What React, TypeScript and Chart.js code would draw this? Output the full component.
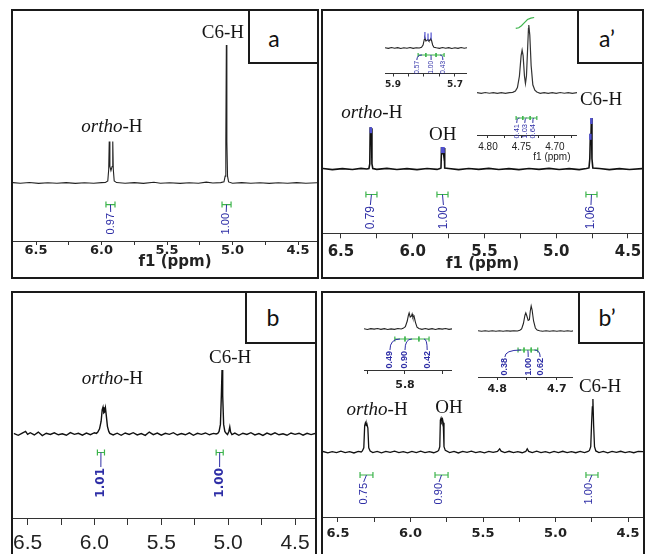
import React, { useEffect, useRef } from "react";
import { Chart, registerables } from "chart.js";
Chart.register(...registerables);

type Pt = [number, number];
type Integral = [number, number, number, string];
type Note = [number, number, string];

// ---------------- DATA ----------------
// spectra: [ppm, relative intensity]
const SPEC_A: Pt[] = [
  [6.676, 0.003], [6.62, -0.002], [6.55, 0.004], [6.48, -0.003], [6.41, 0.002], [6.34, -0.002], [6.27, 0.003], [6.2, -0.003],
  [6.13, 0.002], [6.06, -0.002], [6.0, 0.003], [5.97, 0.004],
  [5.952, 0.015], [5.945, 0.1], [5.941, 0.3], [5.936, 0.12], [5.928, 0.09], [5.919, 0.12], [5.914, 0.3], [5.91, 0.1], [5.903, 0.015],
  [5.885, 0.003], [5.82, -0.002], [5.75, 0.003], [5.68, -0.003], [5.6, 0.005], [5.55, -0.002], [5.48, 0.002], [5.4, -0.003],
  [5.33, 0.002], [5.26, -0.002], [5.2, 0.006], [5.15, 0.0], [5.09, 0.003],
  [5.065, 0.008], [5.056, 0.05], [5.051, 0.3], [5.047, 1.0], [5.043, 0.3], [5.038, 0.05], [5.03, 0.008],
  [5.0, -0.002], [4.93, 0.003], [4.86, -0.002], [4.79, 0.002], [4.72, -0.003], [4.65, 0.002], [4.58, -0.002], [4.51, 0.003],
  [4.44, -0.002], [4.355, 0.002],
];

const SPEC_AP: Pt[] = [
  [6.625, 0.01], [6.56, -0.012], [6.49, 0.008], [6.42, -0.01], [6.36, 0.012], [6.32, 0.0],
  [6.305, 0.01], [6.299, 0.1], [6.296, 0.82], [6.292, 0.6], [6.288, 0.8], [6.284, 0.1], [6.278, 0.01],
  [6.25, -0.008], [6.18, 0.012], [6.11, -0.01], [6.04, 0.008], [5.97, -0.012], [5.9, 0.01], [5.83, -0.008], [5.81, 0.008],
  [5.803, 0.02], [5.799, 0.43], [5.795, 0.3], [5.79, 0.42], [5.785, 0.3], [5.781, 0.41], [5.777, 0.02],
  [5.75, 0.01], [5.68, -0.012], [5.61, 0.01], [5.54, -0.008], [5.47, 0.012], [5.4, -0.01], [5.33, 0.008], [5.26, -0.012],
  [5.19, 0.01], [5.12, -0.008], [5.05, 0.012], [4.98, -0.01], [4.91, 0.008], [4.84, -0.012], [4.79, 0.008],
  [4.772, 0.02], [4.766, 0.2], [4.762, 0.69], [4.759, 0.5], [4.755, 1.0], [4.751, 0.2], [4.745, 0.02],
  [4.7, 0.01], [4.63, -0.012], [4.56, 0.008], [4.49, -0.01], [4.4024, 0.008],
];

const SPEC_AP_OH: Pt[] = [
  [5.926, 0.03], [5.915, -0.04], [5.905, 0.05], [5.895, -0.02], [5.885, 0.04], [5.875, -0.05], [5.865, 0.03], [5.855, -0.03],
  [5.845, 0.05], [5.835, -0.04], [5.825, 0.03], [5.815, 0.0],
  [5.808, 0.08], [5.803, 0.3], [5.799, 0.85], [5.797, 1.0], [5.794, 0.7], [5.791, 0.75], [5.787, 0.85], [5.784, 0.7],
  [5.781, 0.75], [5.778, 0.95], [5.776, 0.8], [5.772, 0.3], [5.768, 0.08],
  [5.76, 0.02], [5.75, -0.04], [5.74, 0.05], [5.73, -0.03], [5.72, 0.04], [5.71, -0.05], [5.7, 0.03], [5.69, -0.04],
  [5.68, 0.05], [5.67, -0.02], [5.661, 0.03],
];

const SPEC_AP_C6: Pt[] = [
  [4.8164, 0.005], [4.81, -0.006], [4.804, 0.007], [4.798, -0.004], [4.792, 0.006], [4.786, -0.007], [4.78, 0.005],
  [4.774, -0.005], [4.768, 0.006], [4.763, 0.01],
  [4.759, 0.03], [4.756, 0.08], [4.753, 0.25], [4.7505, 0.55], [4.749, 0.63], [4.7475, 0.55], [4.7455, 0.25], [4.744, 0.14],
  [4.7425, 0.25], [4.741, 0.6], [4.7395, 0.95], [4.739, 1.0], [4.7375, 0.85], [4.7355, 0.4], [4.733, 0.12], [4.73, 0.04], [4.727, 0.015],
  [4.722, -0.005], [4.716, 0.006], [4.71, -0.007], [4.704, 0.005], [4.698, -0.006], [4.692, 0.007], [4.686, -0.004],
  [4.68, 0.006], [4.674, -0.005], [4.667, 0.004],
];

const SPEC_B: Pt[] = [
  [6.6045, 0.01], [6.57, -0.02], [6.54, 0.015], [6.515, 0.04], [6.5, -0.005], [6.48, 0.02], [6.45, -0.015], [6.42, 0.03],
  [6.39, -0.025], [6.36, 0.012], [6.33, -0.008], [6.3, 0.018], [6.27, -0.012], [6.24, 0.004], [6.21, -0.02], [6.18, 0.022],
  [6.15, -0.006], [6.12, 0.01], [6.09, -0.018], [6.06, 0.014], [6.03, -0.01], [6.0, 0.02], [5.985, 0.01],
  [5.975, 0.03], [5.962, 0.08], [5.95, 0.2], [5.942, 0.38], [5.936, 0.42], [5.93, 0.33], [5.925, 0.34], [5.918, 0.41],
  [5.912, 0.3], [5.903, 0.12], [5.893, 0.04], [5.885, 0.01],
  [5.86, -0.015], [5.83, 0.012], [5.8, -0.02], [5.77, 0.016], [5.74, -0.008], [5.71, 0.02], [5.68, -0.014], [5.65, 0.006],
  [5.62, -0.022], [5.59, 0.03], [5.56, -0.01], [5.53, 0.015], [5.5, -0.018], [5.47, 0.01], [5.44, -0.006], [5.41, 0.02],
  [5.38, -0.016], [5.35, 0.008], [5.32, -0.012], [5.29, 0.018], [5.26, -0.02], [5.23, 0.01], [5.2, -0.006], [5.17, 0.016],
  [5.14, -0.012], [5.11, 0.01], [5.09, 0.0],
  [5.078, 0.01], [5.068, 0.04], [5.058, 0.15], [5.051, 0.6], [5.046, 1.0], [5.041, 0.6], [5.034, 0.15], [5.025, 0.04], [5.015, 0.01],
  [5.005, -0.01], [4.995, 0.04], [4.988, 0.11], [4.982, 0.03], [4.972, -0.01],
  [4.95, 0.015], [4.92, -0.02], [4.89, 0.012], [4.86, -0.008], [4.83, 0.02], [4.8, -0.015], [4.77, 0.006], [4.74, -0.022],
  [4.71, 0.014], [4.68, -0.01], [4.65, 0.018], [4.62, -0.012], [4.59, 0.004], [4.56, -0.02], [4.53, 0.016], [4.5, -0.006],
  [4.47, 0.012], [4.44, -0.018], [4.41, 0.01], [4.38, -0.01], [4.3507, 0.008],
];

const SPEC_BP: Pt[] = [
  [6.6034, 0.01], [6.57, -0.015], [6.54, 0.008], [6.51, -0.01], [6.48, 0.015], [6.45, -0.012], [6.42, 0.006], [6.39, -0.018],
  [6.36, 0.012], [6.34, 0.0],
  [6.332, 0.02], [6.322, 0.08], [6.316, 0.5], [6.311, 0.55], [6.305, 0.5], [6.3, 0.52], [6.294, 0.45], [6.288, 0.08], [6.278, 0.02],
  [6.26, -0.01], [6.23, 0.012], [6.2, -0.016], [6.17, 0.01], [6.14, -0.008], [6.11, 0.015], [6.08, -0.012], [6.05, 0.006],
  [6.02, -0.016], [5.99, 0.012], [5.96, -0.01], [5.93, 0.015], [5.9, -0.012], [5.87, 0.008], [5.84, -0.014], [5.815, 0.01],
  [5.806, 0.03], [5.798, 0.1], [5.794, 0.6], [5.789, 0.64], [5.784, 0.58], [5.779, 0.62], [5.774, 0.55], [5.769, 0.1], [5.76, 0.03],
  [5.73, -0.012], [5.7, 0.01], [5.67, -0.018], [5.64, 0.012], [5.61, -0.006], [5.58, 0.016], [5.55, -0.012], [5.52, 0.008],
  [5.49, -0.016], [5.46, 0.01], [5.43, -0.008], [5.4, 0.012], [5.385, 0.06], [5.375, 0.015], [5.35, -0.01], [5.32, 0.014],
  [5.29, -0.012], [5.26, 0.008], [5.23, -0.014], [5.205, 0.01], [5.195, 0.06], [5.185, 0.012], [5.16, -0.01], [5.13, 0.015],
  [5.1, -0.012], [5.07, 0.006], [5.04, -0.016], [5.01, 0.012], [4.98, -0.01], [4.95, 0.014], [4.92, -0.012], [4.89, 0.008],
  [4.86, -0.014], [4.83, 0.01], [4.8, -0.01], [4.775, 0.01],
  [4.766, 0.03], [4.757, 0.1], [4.751, 0.55], [4.746, 0.85], [4.742, 1.0], [4.737, 0.5], [4.731, 0.1], [4.722, 0.02],
  [4.7, -0.012], [4.67, 0.01], [4.64, -0.016], [4.61, 0.012], [4.58, -0.008], [4.55, 0.014], [4.52, -0.012], [4.49, 0.008],
  [4.46, -0.014], [4.43, 0.01], [4.3966, 0.008],
];

const SPEC_BP_OH: Pt[] = [
  [5.909, 0.02], [5.9, -0.03], [5.891, 0.02], [5.882, -0.01], [5.873, 0.03], [5.864, -0.02], [5.855, 0.02], [5.846, -0.03],
  [5.837, 0.01], [5.828, -0.02], [5.819, 0.03], [5.81, 0.0],
  [5.805, 0.04], [5.799, 0.15], [5.794, 0.5], [5.791, 0.85], [5.789, 1.0], [5.786, 0.75], [5.783, 0.8], [5.781, 0.94],
  [5.779, 0.72], [5.777, 0.78], [5.776, 0.81], [5.772, 0.4], [5.768, 0.12], [5.763, 0.03],
  [5.755, -0.02], [5.746, 0.03], [5.737, -0.02], [5.728, 0.02], [5.719, -0.03], [5.71, 0.02], [5.701, -0.01], [5.692, 0.03],
  [5.683, -0.02], [5.675, 0.01],
];

const SPEC_BP_C6: Pt[] = [
  [4.832, 0.01], [4.826, -0.012], [4.82, 0.008], [4.814, -0.01], [4.808, 0.012], [4.802, -0.008], [4.796, 0.01], [4.79, -0.012],
  [4.784, 0.008], [4.778, -0.006], [4.772, 0.01], [4.766, 0.0],
  [4.762, 0.03], [4.759, 0.08], [4.756, 0.3], [4.7535, 0.62], [4.752, 0.72], [4.7505, 0.62], [4.748, 0.42], [4.746, 0.45],
  [4.7445, 0.8], [4.743, 1.0], [4.7415, 0.85], [4.739, 0.4], [4.736, 0.12], [4.733, 0.04], [4.729, 0.01],
  [4.724, -0.01], [4.718, 0.012], [4.712, -0.008], [4.706, 0.01], [4.7, -0.012], [4.694, 0.008], [4.688, -0.01],
  [4.682, 0.012], [4.676, -0.008], [4.673, 0.005],
];

// integrals: [from ppm, to ppm, label ppm, value]
const INT_A: Integral[] = [[5.966, 5.897, 5.93, "0.97"], [5.08, 5.011, 5.048, "1.00"]];
const INT_AP: Integral[] = [[6.326, 6.249, 6.295, "0.79"], [5.831, 5.754, 5.786, "1.00"], [4.793, 4.716, 4.758, "1.06"]];
const INT_AP_OH: Integral[] = [[5.819, 5.794, 5.823, "0.57"], [5.794, 5.761, 5.777, "1.00"], [5.761, 5.735, 5.739, "0.43"]];
const INT_AP_C6: Integral[] = [[4.758, 4.748, 4.757, "0.41"], [4.748, 4.737, 4.745, "1.03"], [4.737, 4.727, 4.733, "0.64"]];
const INT_B: Integral[] = [[5.978, 5.925, 5.952, "1.01"], [5.09, 5.037, 5.064, "1.00"]];
const INT_BP: Integral[] = [[6.348, 6.259, 6.323, "0.75"], [5.831, 5.741, 5.803, "0.90"], [4.79, 4.707, 4.769, "1.00"]];
const INT_BP_OH: Integral[] = [[5.827, 5.8, 5.84, "0.49"], [5.8, 5.763, 5.8, "0.90"], [5.763, 5.736, 5.741, "0.42"]];
const INT_BP_C6: Integral[] = [[4.765, 4.755, 4.787, "0.38"], [4.755, 4.743, 4.748, "1.00"], [4.743, 4.732, 4.728, "0.62"]];

// peak annotations: [ppm, height, text]
const NOTES_A: Note[] = [[5.92, 0.406, "ortho-H"], [5.073, 1.087, "C6-H"]];
const NOTES_AP: Note[] = [[6.285, 1.1, "ortho-H"], [5.79, 0.67, "OH"], [4.688, 1.35, "C6-H"]];
const NOTES_B: Note[] = [[5.866, 0.86, "ortho-H"], [4.985, 1.19, "C6-H"]];
const NOTES_BP: Note[] = [[6.231, 0.79, "ortho-H"], [5.734, 0.83, "OH"], [4.693, 1.23, "C6-H"]];

// peak picks: [ppm, height]
const PICKS_AP: Pt[] = [[6.292, 0.82], [5.795, 0.43], [5.785, 0.43], [4.762, 0.69], [4.755, 1.0]];
const PICKS_AP_OH: Pt[] = [[5.797, 1.0], [5.787, 0.85], [5.777, 0.95]];

// integral curve in C6-H inset
const CURVE_AP_C6: Pt[] = [[4.7585, 0.95], [4.754, 0.96], [4.75, 0.99], [4.747, 1.02], [4.744, 1.05], [4.741, 1.08], [4.736, 1.1], [4.731, 1.11]];

// tick labels
const TICKS_MAIN = ["6.5", "6.0", "5.5", "5.0", "4.5"];
const TICKS_AP_OH = ["5.9", "5.7"];
const TICKS_AP_C6 = ["4.80", "4.75", "4.70"];
const TICKS_BP_OH = ["5.8"];
const TICKS_BP_C6 = ["4.8", "4.7"];

// ---------------- STYLE ----------------
const GREEN = "#3cb44b";
const BLUE = "#2e2ea6";
const PICK_BLUE = "#5050d0";
const INK = "#151515";
const SERIF = '"Liberation Serif", "Times New Roman", serif';
const DV = '"DejaVu Sans", Verdana, sans-serif';
const LS = '"Liberation Sans", Arial, sans-serif';

interface Cfg {
  left: number; top: number; width: number; height: number;
  xLo: number; xHi: number; yMin: number; yMax: number;
  step: number; tickLabels: string[];
  scaleHeight: number; tickLength: number; tickPadding: number;
  tickFont: any; tickColor: string;
  title?: { text: string; font: any; padBottom: number };
  axisText?: { text: string; ppm: number; dy: number; font: string };
  spectrum: Pt[]; lineWidth: number; lineColor: string;
  integrals?: Integral[];
  intStyle?: { row: number; textTop: number; font: string; bracket: boolean; cap: number };
  notes?: Note[];
  picks?: Pt[]; pickStyle?: { up: number; down: number; width: number };
  curve?: Pt[];
}

const CFG_A: Cfg = {
  left: 13, top: 11, width: 304, height: 266,
  xLo: 4.355, xHi: 6.6756, yMin: -0.4203, yMax: 1.2464,
  step: 0.25, tickLabels: TICKS_MAIN,
  scaleHeight: 36, tickLength: 4, tickPadding: -2,
  tickFont: { family: DV, size: 13, weight: "bold" }, tickColor: "#333",
  axisText: { text: "f1 (ppm)", ppm: 5.439, dy: 21, font: `bold 15px ${DV}` },
  spectrum: SPEC_A, lineWidth: 1.1, lineColor: "#222",
  integrals: INT_A, intStyle: { row: -0.156, textTop: -0.21, font: `11px ${LS}`, bracket: false, cap: 3 },
  notes: NOTES_A,
};

const CFG_AP: Cfg = {
  left: 323, top: 11, width: 319, height: 266,
  xLo: 4.4024, xHi: 6.625, yMin: -1.261, yMax: 3.098,
  step: 0.25, tickLabels: TICKS_MAIN,
  scaleHeight: 43.7, tickLength: 5, tickPadding: 0,
  tickFont: { family: DV, size: 15, weight: "bold", lineHeight: 1.89 }, tickColor: "#333",
  title: { text: "f1 (ppm)", font: { family: DV, size: 15, weight: "bold" }, padBottom: 4 },
  spectrum: SPEC_AP, lineWidth: 1.6, lineColor: "#111",
  integrals: INT_AP, intStyle: { row: -0.5, textTop: -0.706, font: `12px ${LS}`, bracket: false, cap: 3 },
  notes: NOTES_AP,
  picks: PICKS_AP, pickStyle: { up: 0, down: 6, width: 2.5 },
};

const CFG_AP_OH: Cfg = {
  left: 385, top: 18, width: 82, height: 76,
  xLo: 5.661, xHi: 5.926, yMin: -2.55, yMax: 3.0,
  step: 0.05, tickLabels: TICKS_AP_OH,
  scaleHeight: 20.5, tickLength: 3, tickPadding: 0,
  tickFont: { family: DV, size: 9, weight: "bold", lineHeight: 1.89 }, tickColor: "#333",
  spectrum: SPEC_AP_OH, lineWidth: 1.1, lineColor: "#222",
  integrals: INT_AP_OH, intStyle: { row: -0.7, textTop: -1.2, font: `6.5px ${LS}`, bracket: true, cap: 2 },
  picks: PICKS_AP_OH, pickStyle: { up: 6, down: 1, width: 1.2 },
};

const CFG_AP_C6: Cfg = {
  left: 477, top: 15, width: 100, height: 148,
  xLo: 4.667, xHi: 4.8164, yMin: -0.618, yMax: 1.147,
  step: 0.025, tickLabels: TICKS_AP_C6,
  scaleHeight: 28, tickLength: 3, tickPadding: 0,
  tickFont: { family: LS, size: 10, lineHeight: 1.8 }, tickColor: "#333",
  axisText: { text: "f1 (ppm)", ppm: 4.7045, dy: 22, font: `10px ${LS}` },
  spectrum: SPEC_AP_C6, lineWidth: 1.2, lineColor: "#333",
  integrals: INT_AP_C6, intStyle: { row: -0.368, textTop: -0.441, font: `7.5px ${LS}`, bracket: true, cap: 2 },
  curve: CURVE_AP_C6,
};

const CFG_B: Cfg = {
  left: 13, top: 293, width: 302, height: 261,
  xLo: 4.3507, xHi: 6.6045, yMin: -1.3125, yMax: 2.203,
  step: 0.25, tickLabels: TICKS_MAIN,
  scaleHeight: 36, tickLength: 7, tickPadding: 0,
  tickFont: { family: '"Liberation Sans Narrow", "Liberation Sans", Arial, sans-serif', size: 21, lineHeight: 1.76 }, tickColor: "#333",
  spectrum: SPEC_B, lineWidth: 1.4, lineColor: "#111",
  integrals: INT_B, intStyle: { row: -0.289, textTop: -0.516, font: `bold 12px ${DV}`, bracket: false, cap: 3 },
  notes: NOTES_B,
};

const CFG_BP: Cfg = {
  left: 323, top: 293, width: 320, height: 261,
  xLo: 4.3966, xHi: 6.6034, yMin: -1.2264, yMax: 3.0,
  step: 0.25, tickLabels: TICKS_MAIN,
  scaleHeight: 37, tickLength: 5, tickPadding: 0,
  tickFont: { family: DV, size: 13, weight: "bold", lineHeight: 1.85 }, tickColor: "#333",
  spectrum: SPEC_BP, lineWidth: 1.3, lineColor: "#111",
  integrals: INT_BP, intStyle: { row: -0.434, textTop: -0.566, font: `11px ${LS}`, bracket: false, cap: 3 },
  notes: NOTES_BP,
};

const CFG_BP_OH: Cfg = {
  left: 364, top: 300, width: 88, height: 92,
  xLo: 5.675, xHi: 5.909, yMin: -2.5625, yMax: 1.8125,
  step: 0.1, tickLabels: TICKS_BP_OH,
  scaleHeight: 22, tickLength: 4, tickPadding: 0,
  tickFont: { family: DV, size: 11, weight: "bold", lineHeight: 2.0 }, tickColor: "#333",
  spectrum: SPEC_BP_OH, lineWidth: 1.1, lineColor: "#222",
  integrals: INT_BP_OH, intStyle: { row: -0.625, textTop: -1.3125, font: `bold 9px ${LS}`, bracket: true, cap: 2.5 },
};

const CFG_BP_C6: Cfg = {
  left: 478, top: 300, width: 95, height: 95,
  xLo: 4.673, xHi: 4.832, yMin: -1.84, yMax: 1.24,
  step: 0.05, tickLabels: TICKS_BP_C6,
  scaleHeight: 18, tickLength: 3, tickPadding: 0,
  tickFont: { family: DV, size: 11, weight: "bold", lineHeight: 1.64 }, tickColor: "#333",
  spectrum: SPEC_BP_C6, lineWidth: 1.1, lineColor: "#222",
  integrals: INT_BP_C6, intStyle: { row: -0.76, textTop: -1.04, font: `bold 9px ${LS}`, bracket: true, cap: 2.5 },
};

function decorPlugin(cfg: Cfg) {
  return {
    id: "nmrDecor",
    afterDatasetsDraw(chart: any) {
      const ctx: CanvasRenderingContext2D = chart.ctx;
      const xs = chart.scales.x;
      const ys = chart.scales.y;
      ctx.save();
      if (cfg.picks && cfg.pickStyle) {
        ctx.strokeStyle = PICK_BLUE;
        ctx.lineWidth = cfg.pickStyle.width;
        for (const [p, h] of cfg.picks) {
          const x = xs.getPixelForValue(p);
          const y = ys.getPixelForValue(h);
          ctx.beginPath();
          ctx.moveTo(x, y - cfg.pickStyle.up);
          ctx.lineTo(x, y + cfg.pickStyle.down);
          ctx.stroke();
        }
      }
      if (cfg.curve) {
        ctx.strokeStyle = GREEN;
        ctx.lineWidth = 1.2;
        ctx.beginPath();
        cfg.curve.forEach(([p, h], i) => {
          const x = xs.getPixelForValue(p);
          const y = ys.getPixelForValue(h);
          if (i === 0) ctx.moveTo(x, y);
          else ctx.lineTo(x, y);
        });
        ctx.stroke();
      }
      if (cfg.integrals && cfg.intStyle) {
        const st = cfg.intStyle;
        const gy = ys.getPixelForValue(st.row);
        const ty = ys.getPixelForValue(st.textTop);
        for (const [a, b, l, txt] of cfg.integrals) {
          const x1 = xs.getPixelForValue(a);
          const x2 = xs.getPixelForValue(b);
          const xl = xs.getPixelForValue(l);
          const xc = (x1 + x2) / 2;
          ctx.strokeStyle = GREEN;
          ctx.lineWidth = 1.2;
          ctx.beginPath();
          ctx.moveTo(x1, gy);
          ctx.lineTo(x2, gy);
          ctx.moveTo(x1, gy - st.cap);
          ctx.lineTo(x1, gy + st.cap);
          ctx.moveTo(x2, gy - st.cap);
          ctx.lineTo(x2, gy + st.cap);
          ctx.stroke();
          ctx.strokeStyle = BLUE;
          ctx.lineWidth = 1;
          ctx.beginPath();
          ctx.moveTo(xc, gy);
          if (st.bracket) ctx.quadraticCurveTo(xl, gy, xl, ty);
          else ctx.lineTo(xl, ty);
          ctx.stroke();
          ctx.save();
          ctx.translate(xl, ty);
          ctx.rotate(-Math.PI / 2);
          ctx.font = st.font;
          ctx.fillStyle = BLUE;
          ctx.textAlign = "right";
          ctx.textBaseline = "middle";
          ctx.fillText(txt, -1, 0);
          ctx.restore();
        }
      }
      if (cfg.axisText) {
        const t = cfg.axisText;
        ctx.fillStyle = "#222";
        ctx.font = t.font;
        ctx.textAlign = "center";
        ctx.textBaseline = "middle";
        ctx.fillText(t.text, xs.getPixelForValue(t.ppm), chart.chartArea.bottom + t.dy);
      }
      if (cfg.notes) {
        const it = `italic 19px ${SERIF}`;
        const rm = `19px ${SERIF}`;
        ctx.fillStyle = INK;
        ctx.textBaseline = "middle";
        for (const [p, h, txt] of cfg.notes) {
          const x = xs.getPixelForValue(p);
          const y = ys.getPixelForValue(h);
          if (txt.startsWith("ortho")) {
            ctx.font = it;
            const w1 = ctx.measureText("ortho").width;
            ctx.font = rm;
            const rest = txt.slice(5);
            const w2 = ctx.measureText(rest).width;
            const x0 = x - (w1 + w2) / 2;
            ctx.textAlign = "left";
            ctx.font = it;
            ctx.fillText("ortho", x0, y);
            ctx.font = rm;
            ctx.fillText(rest, x0 + w1, y);
          } else {
            ctx.textAlign = "center";
            ctx.font = rm;
            ctx.fillText(txt, x, y);
          }
        }
      }
      ctx.restore();
    },
  };
}

function NmrChart({ cfg }: { cfg: Cfg }) {
  const ref = useRef<HTMLCanvasElement>(null);
  useEffect(() => {
    if (!ref.current) return;
    const chart = new Chart(ref.current, {
      type: "line",
      data: {
        datasets: [
          {
            data: cfg.spectrum.map(([x, y]) => ({ x, y })),
            borderColor: cfg.lineColor,
            borderWidth: cfg.lineWidth,
            pointRadius: 0,
            tension: 0,
            fill: false,
          },
        ],
      },
      options: {
        responsive: false,
        animation: false,
        events: [],
        layout: { padding: 0, autoPadding: false },
        plugins: { legend: { display: false }, tooltip: { enabled: false } },
        scales: {
          x: {
            type: "linear",
            reverse: true,
            min: cfg.xLo,
            max: cfg.xHi,
            ticks: {
              stepSize: cfg.step,
              autoSkip: false,
              maxRotation: 0,
              minRotation: 0,
              includeBounds: false,
              padding: cfg.tickPadding,
              color: "#222",
              font: cfg.tickFont,
              callback: (v: any) => {
                const n = Number(v);
                const m = cfg.tickLabels.find((s) => Math.abs(parseFloat(s) - n) < 1e-6);
                return m ?? "";
              },
            },
            grid: {
              display: true,
              drawOnChartArea: false,
              drawTicks: true,
              tickLength: cfg.tickLength,
              color: cfg.tickColor,
              lineWidth: 1,
            },
            border: { display: true, color: cfg.tickColor, width: 1 },
            title: cfg.title
              ? {
                  display: true,
                  text: cfg.title.text,
                  font: cfg.title.font,
                  color: "#222",
                  padding: { top: 0, bottom: cfg.title.padBottom },
                }
              : { display: false },
            afterFit: (s: any) => {
              s.height = cfg.scaleHeight;
            },
          } as any,
          y: { type: "linear", display: false, min: cfg.yMin, max: cfg.yMax },
        },
      },
      plugins: [decorPlugin(cfg)],
    });
    return () => chart.destroy();
  }, [cfg]);
  return (
    <canvas
      ref={ref}
      width={cfg.width}
      height={cfg.height}
      style={{ position: "absolute", left: cfg.left, top: cfg.top, width: cfg.width, height: cfg.height }}
    />
  );
}

function Box({ l, t, w, h }: { l: number; t: number; w: number; h: number }) {
  return (
    <div
      style={{
        position: "absolute", left: l, top: t, width: w, height: h,
        border: "2px solid #1a1a1a", boxSizing: "border-box", background: "#fff",
      }}
    />
  );
}

function Letter({ l, t, w, h, cx, cy, text }: { l: number; t: number; w: number; h: number; cx: number; cy: number; text: string }) {
  return (
    <div
      style={{
        position: "absolute", left: l, top: t, width: w, height: h,
        border: "2px solid #1a1a1a", boxSizing: "border-box", background: "#fff",
      }}
    >
      <span
        style={{
          position: "absolute", left: cx, top: cy, transform: "translate(-50%, -50%)",
          fontFamily: 'Lato, "Open Sans", sans-serif', fontSize: 23, color: "#111", lineHeight: 1, whiteSpace: "nowrap",
        }}
      >
        {text}
      </span>
    </div>
  );
}

export default function App() {
  return (
    <div style={{ position: "absolute", left: 0, top: 0, width: 645, height: 554, overflow: "hidden", background: "#fff" }}>
      <Box l={11} t={9} w={308} h={270} />
      <Box l={321} t={9} w={323} h={270} />
      <Box l={11} t={291} w={306} h={280} />
      <Box l={321} t={291} w={324} h={280} />
      <NmrChart cfg={CFG_A} />
      <NmrChart cfg={CFG_AP} />
      <NmrChart cfg={CFG_B} />
      <NmrChart cfg={CFG_BP} />
      <NmrChart cfg={CFG_AP_OH} />
      <NmrChart cfg={CFG_AP_C6} />
      <NmrChart cfg={CFG_BP_OH} />
      <NmrChart cfg={CFG_BP_C6} />
      <Letter l={248} t={9} w={71} h={55} cx={24} cy={27} text="a" />
      <Letter l={577} t={9} w={67} h={55} cx={28} cy={27} text="a’" />
      <Letter l={245} t={291} w={72} h={53} cx={26} cy={24} text="b" />
      <Letter l={578} t={291} w={67} h={53} cx={27} cy={24} text="b’" />
    </div>
  );
}
